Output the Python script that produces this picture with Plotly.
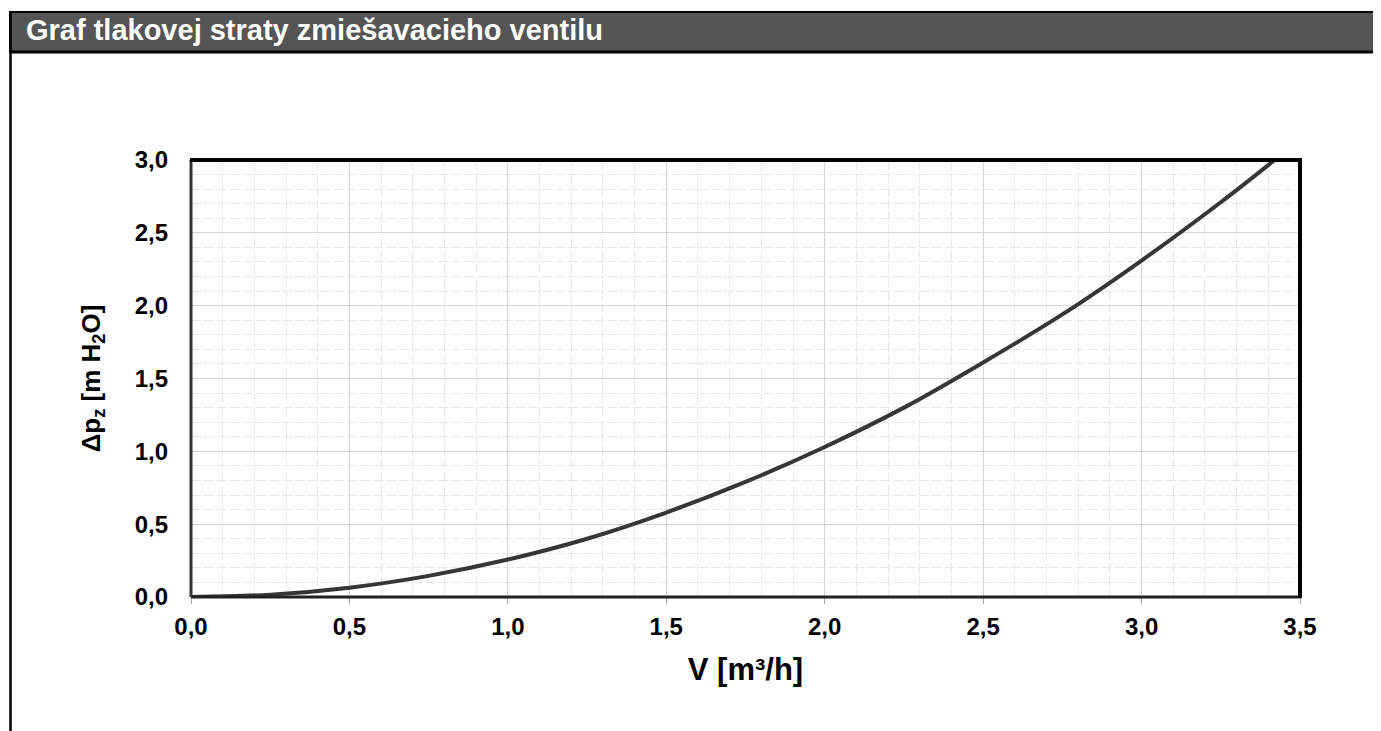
import plotly.graph_objects as go

# Data
flow_v = [0.0, 0.25, 0.5, 0.75, 1.0, 1.25, 1.5, 1.75, 2.0, 2.25, 2.5, 2.75, 3.0, 3.25, 3.42]
dp_z = [0.0, 0.016, 0.064, 0.145, 0.257, 0.40, 0.58, 0.79, 1.03, 1.30, 1.61, 1.94, 2.31, 2.71, 3.0]
x_ticks = [0.0, 0.5, 1.0, 1.5, 2.0, 2.5, 3.0, 3.5]
x_tick_labels = ["0,0", "0,5", "1,0", "1,5", "2,0", "2,5", "3,0", "3,5"]
y_ticks = [0.0, 0.5, 1.0, 1.5, 2.0, 2.5, 3.0]
y_tick_labels = ["0,0", "0,5", "1,0", "1,5", "2,0", "2,5", "3,0"]
title_text = "Graf tlakovej straty zmiešavacieho ventilu"

# The page body has an 8px margin, so figure pixel = screen pixel - 8
OFF = 8
W, H = 1381 - OFF, 731 - OFF
L, R, T, B = 191 - OFF, 1300 - OFF, 160 - OFF, 597 - OFF

def px_x(p):
    return (p - L) / (R - L)

def px_y(p):
    return (B - p) / (B - T)

fig = go.Figure()
fig.add_trace(go.Scatter(
    x=flow_v, y=dp_z, mode="lines",
    line=dict(color="#363636", width=4, shape="spline"),
    hoverinfo="skip", showlegend=False,
))

font_family = "Liberation Sans, Arial, sans-serif"

fig.update_layout(
    width=W, height=H,
    margin=dict(l=L, r=W - R, t=T, b=H - B, autoexpand=False),
    paper_bgcolor="white", plot_bgcolor="white",
    font=dict(family=font_family, color="black"),
    showlegend=False,
)

fig.update_xaxes(
    range=[0, 3.5], tickvals=x_ticks, ticktext=x_tick_labels,
    tickfont=dict(size=24, family=font_family, weight="bold"),
    showgrid=True, gridcolor="#d6d6d6", gridwidth=1,
    minor=dict(dtick=0.1, showgrid=True, gridcolor="#e8e8e8", griddash="10px,3px", gridwidth=1,
               ticks=""),
    ticks="outside", ticklen=6, tickcolor="#aaaaaa", ticklabelstandoff=2,
    zeroline=False, showline=False,
    title=dict(text="V [m³/h]", font=dict(size=31, family=font_family, weight="bold"), standoff=19),
)
fig.update_yaxes(
    range=[0, 3.0], tickvals=y_ticks, ticktext=y_tick_labels,
    tickfont=dict(size=24, family=font_family, weight="bold"),
    showgrid=True, gridcolor="#d6d6d6", gridwidth=1,
    minor=dict(dtick=0.1, showgrid=True, gridcolor="#e8e8e8", griddash="10px,3px", gridwidth=1),
    ticks="", ticklabelstandoff=22,
    zeroline=False, showline=False,
    title=dict(text="Δp<sub>z</sub> [m H<sub>2</sub>O]",
               font=dict(size=26, family=font_family, weight="bold"), standoff=26),
)

shapes = []
# Header bar
shapes.append(dict(type="rect", xref="paper", yref="paper",
                   x0=px_x(2), x1=px_x(W + 5), y0=px_y(44), y1=px_y(4),
                   fillcolor="#555555", line=dict(color="black", width=2), layer="above"))
# Header bottom line
shapes.append(dict(type="line", xref="paper", yref="paper",
                   x0=px_x(2), x1=px_x(W + 5), y0=px_y(44), y1=px_y(44),
                   line=dict(color="black", width=3), layer="above"))
# Left page border
shapes.append(dict(type="line", xref="paper", yref="paper",
                   x0=px_x(2.5), x1=px_x(2.5), y0=px_y(4), y1=px_y(H + 5),
                   line=dict(color="black", width=2.5), layer="above"))
# Plot frame
shapes.append(dict(type="line", xref="paper", yref="paper",
                   x0=0, x1=1, y0=0, y1=0, line=dict(color="#222222", width=3), layer="above"))
shapes.append(dict(type="line", xref="paper", yref="paper",
                   x0=0, x1=0, y0=0, y1=1, line=dict(color="#333333", width=3), layer="above"))
shapes.append(dict(type="line", xref="paper", yref="paper",
                   x0=px_x(L - 1), x1=px_x(R + 2), y0=1, y1=1, line=dict(color="black", width=4), layer="above"))
shapes.append(dict(type="line", xref="paper", yref="paper",
                   x0=1, x1=1, y0=px_y(B + 1), y1=px_y(T - 2), line=dict(color="black", width=4), layer="above"))
fig.update_layout(shapes=shapes)

fig.add_annotation(
    xref="paper", yref="paper", x=px_x(16), y=px_y(22.5),
    xanchor="left", yanchor="middle", showarrow=False,
    text=title_text,
    font=dict(size=29, color="white", family=font_family, weight="bold"),
)

fig.write_html("out.html")
